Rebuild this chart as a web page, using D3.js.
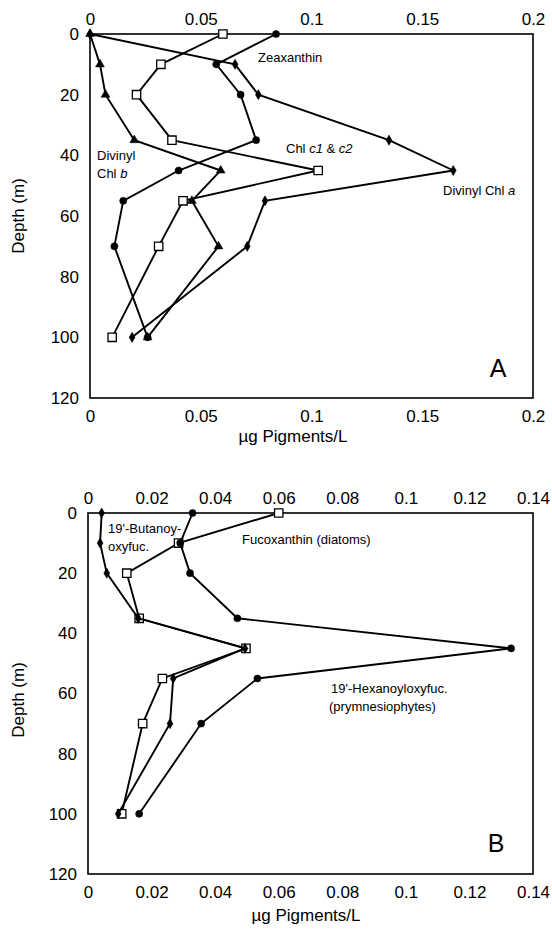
<!DOCTYPE html>
<html>
<head>
<meta charset="utf-8">
<script src="https://cdn.jsdelivr.net/npm/d3@7"></script>
<style>
  html, body { margin: 0; padding: 0; background: #fff; }
  svg { display: block; font-family: "Liberation Sans", Arial, sans-serif; }
</style>
</head>
<body>
<svg id="chart" width="552" height="933"></svg>
<script>
// ---- Data ----
const depthsA = [0, 10, 20, 35, 45, 55, 70, 100];
const zeaxanthin = [0.084, 0.057, 0.068, 0.075, 0.040, 0.015, 0.011, 0.026];
const chlC1C2 = [0.060, 0.032, 0.021, 0.037, 0.103, 0.042, 0.031, 0.010];
const divinylChlB = [0, 0.0045, 0.007, 0.020, 0.059, 0.046, 0.058, 0.026];
const divinylChlA = [0, 0.0655, 0.076, 0.135, 0.164, 0.079, 0.071, 0.019];
const ticksXA = [0, 0.05, 0.1, 0.15, 0.2];

const depthsB = [0, 10, 20, 35, 45, 55, 70, 100];
const butanoyloxyfuc = [0.0043, 0.0038, 0.0059, 0.0158, 0.0494, 0.0268, 0.0258, 0.0095];
const fucoxanthin = [0.060, 0.0285, 0.0122, 0.0161, 0.0497, 0.0234, 0.0172, 0.0106];
const hexanoyloxyfuc = [0.0329, 0.029, 0.0321, 0.047, 0.1331, 0.0533, 0.0356, 0.0161];
const ticksXB = [0, 0.02, 0.04, 0.06, 0.08, 0.1, 0.12, 0.14];

const ticksY = [0, 20, 40, 60, 80, 100, 120];

const svg = d3.select("#chart");

function fmt(v) { return v === 0 ? "0" : String(+v.toFixed(2)); }

function panel(cfg) {
  const g = svg.append("g");
  const x = d3.scaleLinear().domain([0, cfg.xmax]).range([cfg.left, cfg.right]);
  const y = d3.scaleLinear().domain([0, 120]).range([cfg.top, cfg.bottom]);

  // frame
  g.append("rect")
    .attr("x", cfg.left).attr("y", cfg.top)
    .attr("width", cfg.right - cfg.left).attr("height", cfg.bottom - cfg.top)
    .attr("fill", "none").attr("stroke", "#000").attr("stroke-width", 1.6);

  // axes (labels only)
  const top = g.append("g").attr("transform", `translate(0,${cfg.top})`)
    .call(d3.axisTop(x).tickValues(cfg.xticks).tickSize(0).tickPadding(9).tickFormat(fmt));
  const bot = g.append("g").attr("transform", `translate(0,${cfg.bottom})`)
    .call(d3.axisBottom(x).tickValues(cfg.xticks).tickSize(0).tickPadding(12).tickFormat(fmt));
  const left = g.append("g").attr("transform", `translate(${cfg.left},0)`)
    .call(d3.axisLeft(y).tickValues(ticksY).tickSize(0).tickPadding(11));
  [top, bot, left].forEach(a => {
    a.select(".domain").remove();
    a.selectAll("text").attr("font-size", 17).attr("font-family", "Liberation Sans, Arial, sans-serif").attr("fill", "#000");
  });

  g.append("text").attr("x", cfg.xtitleX).attr("y", cfg.xtitleY)
    .attr("text-anchor", "middle").attr("font-size", 17).text("µg Pigments/L");
  g.append("text")
    .attr("transform", `translate(${cfg.ytitleX},${cfg.ytitleY}) rotate(-90)`)
    .attr("text-anchor", "middle").attr("font-size", 17).text("Depth (m)");

  g.append("text").attr("x", cfg.letterX).attr("y", cfg.letterY)
    .attr("font-size", 25).attr("text-anchor", "middle").text(cfg.letter);

  const line = d3.line().x(d => x(d[0])).y(d => y(d[1]));
  cfg.series.forEach(s => {
    const pts = s.values.map((v, i) => [v, cfg.depths[i]]);
    g.append("path").datum(pts).attr("d", line)
      .attr("fill", "none").attr("stroke", "#000").attr("stroke-width", 1.9);
    g.append("g").selectAll("path").data(pts).join("path")
      .attr("transform", d => `translate(${x(d[0])},${y(d[1])})`)
      .attr("d", d3.symbol().type(s.symbol).size(s.size)())
      .attr("fill", s.open ? "#fff" : "#000")
      .attr("stroke", "#000").attr("stroke-width", s.open ? 1.3 : 0.5);
  });

  cfg.labels.forEach(l => {
    const t = g.append("text").attr("x", l.x).attr("y", l.y).attr("font-size", 13);
    l.parts.forEach(p => {
      t.append("tspan").text(p[0]).attr("font-style", p[1] ? "italic" : "normal");
    });
  });
}

panel({
  left: 90, right: 533, top: 34, bottom: 398, xmax: 0.2, xticks: ticksXA,
  depths: depthsA,
  xtitleX: 293, xtitleY: 442, ytitleX: 24, ytitleY: 216,
  letter: "A", letterX: 498, letterY: 377,
  series: [
    { values: chlC1C2, symbol: d3.symbolSquare, size: 70, open: true },
    { values: divinylChlB, symbol: d3.symbolTriangle, size: 34 },
    { values: zeaxanthin, symbol: d3.symbolCircle, size: 40 },
    { values: divinylChlA, symbol: d3.symbolDiamond, size: 30 }
  ],
  labels: [
    { x: 258, y: 62, parts: [["Zeaxanthin", false]] },
    { x: 97, y: 160, parts: [["Divinyl", false]] },
    { x: 97, y: 178, parts: [["Chl ", false], ["b", true]] },
    { x: 286, y: 153, parts: [["Chl ", false], ["c1", true], [" & ", false], ["c2", true]] },
    { x: 443, y: 195, parts: [["Divinyl Chl ", false], ["a", true]] }
  ]
});

panel({
  left: 88, right: 533, top: 513, bottom: 874, xmax: 0.14, xticks: ticksXB,
  depths: depthsB,
  xtitleX: 306, xtitleY: 921, ytitleX: 24, ytitleY: 700,
  letter: "B", letterX: 496, letterY: 852,
  series: [
    { values: fucoxanthin, symbol: d3.symbolSquare, size: 70, open: true },
    { values: butanoyloxyfuc, symbol: d3.symbolDiamond, size: 30 },
    { values: hexanoyloxyfuc, symbol: d3.symbolCircle, size: 40 }
  ],
  labels: [
    { x: 108, y: 533, parts: [["19'-Butanoy-", false]] },
    { x: 108, y: 551, parts: [["oxyfuc.", false]] },
    { x: 242, y: 544, parts: [["Fucoxanthin (diatoms)", false]] },
    { x: 331, y: 693, parts: [["19'-Hexanoyloxyfuc.", false]] },
    { x: 329, y: 711, parts: [["(prymnesiophytes)", false]] }
  ]
});
</script>
</body>
</html>
